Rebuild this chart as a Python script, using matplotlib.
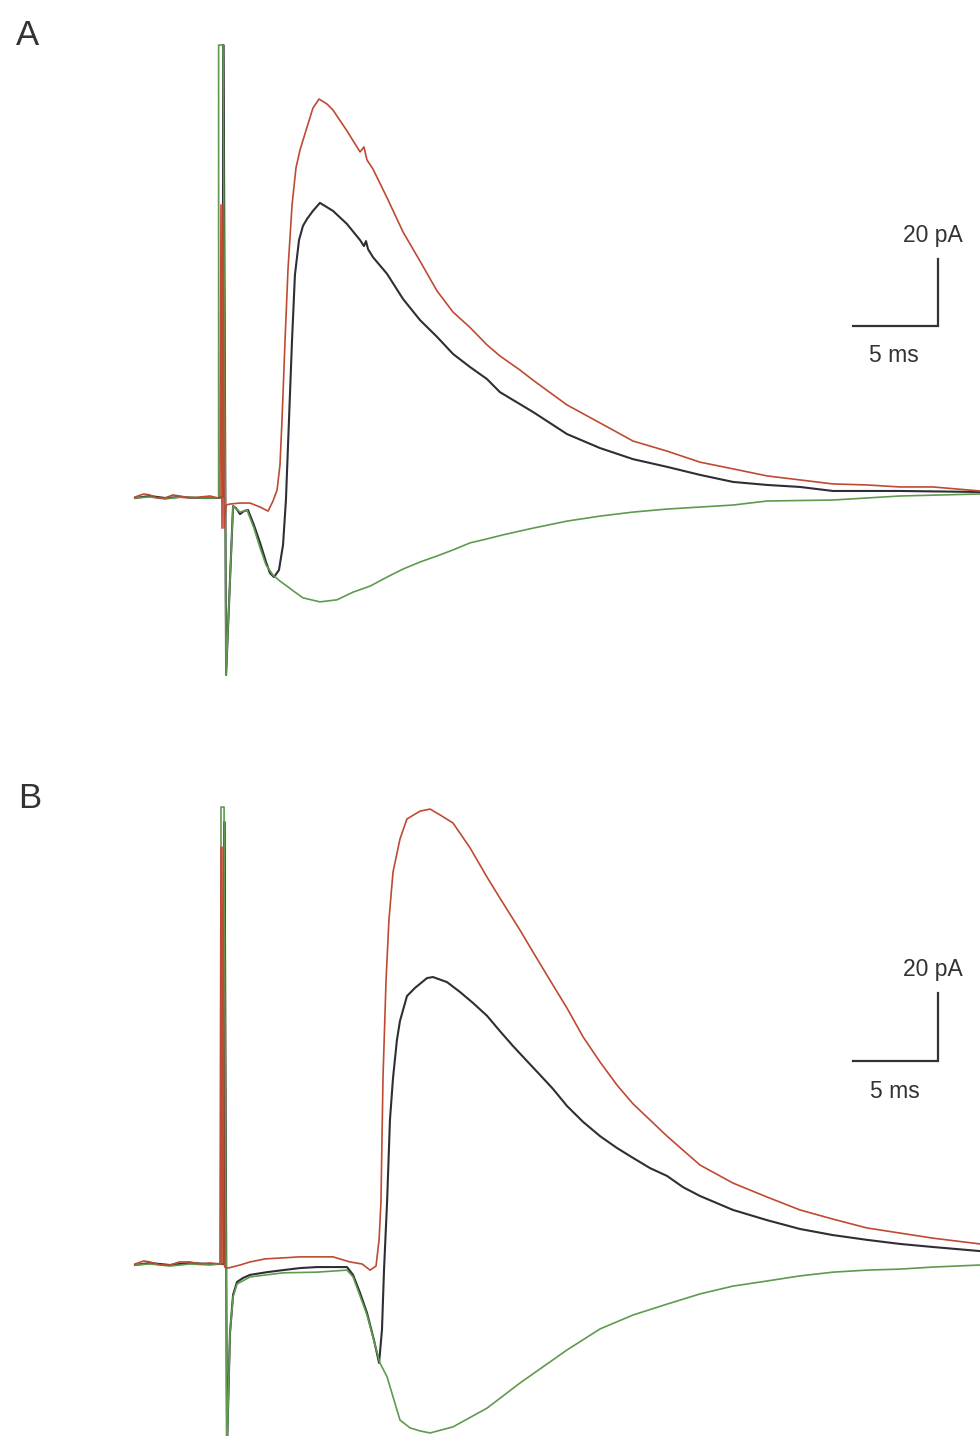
import matplotlib
matplotlib.use("Agg")
import matplotlib.pyplot as plt

# Panel A: time from stimulus (ms) and current (pA)
a_red_t = [-5.12, -4.6, -4.24, -3.8, -3.35, -2.9, -2.47, -1.9, -1.29, -0.7, -0.24, -0.12,
           -0.06, 0.0, 0.06, 0.12, 0.24, 0.47, 1.06, 1.65, 2.24, 2.71, 3.0, 3.24, 3.41,
           3.53, 3.71, 3.88, 4.12, 4.35, 4.59, 5.0, 5.35, 5.71, 6.18, 6.53, 7.35, 8.12,
           8.35, 8.53, 8.88, 9.71, 10.65, 11.65, 12.65, 13.59, 14.59, 15.59, 16.35, 17.53,
           18.29, 20.29, 22.24, 24.18, 26.18, 28.12, 30.06, 32.06, 34.0, 35.94, 37.94,
           39.88, 41.82, 44.59]
a_red_pa = [0.0, 0.9, 0.6, -0.3, -0.3, 0.6, 0.3, -0.3, 0.0, 0.3, -0.3, 0.0,
            87.2, -9.3, 87.2, -9.3, -2.4, -2.1, -1.8, -1.8, -3.0, -4.2, -1.2, 2.1, 9.6,
            23.0, 46.9, 67.8, 87.2, 98.2, 103.6, 110.4, 116.1, 118.8, 117.3, 115.5, 109.3,
            103.0, 104.5, 100.6, 97.9, 89.3, 79.1, 70.4, 61.5, 55.2, 50.6, 45.4, 42.1, 37.9,
            34.9, 27.5, 22.1, 16.7, 13.7, 10.4, 8.4, 6.3, 5.1, 3.9, 3.6,
            3.0, 3.0, 1.8]

a_black_t = [-5.12, -4.24, -3.35, -2.47, -1.29, -0.24, 0.06, 0.06, 0.09, 0.24, 0.65, 0.82,
             1.06, 1.29, 1.53, 1.88, 2.24, 2.59, 2.82, 3.06, 3.35, 3.59, 3.76, 3.94, 4.12,
             4.29, 4.53, 4.76, 5.0, 5.35, 5.76, 6.53, 7.35, 8.12, 8.35, 8.47, 8.59, 8.88,
             9.71, 10.65, 11.65, 12.65, 13.59, 14.59, 15.59, 16.35, 18.29, 20.29, 22.24,
             24.18, 26.18, 28.12, 30.06, 32.06, 34.0, 35.94, 39.88, 44.59]
a_black_pa = [-0.3, 0.3, -0.3, 0.0, -0.3, -0.3, 0.0, 134.9, 134.9, -53.1, -2.7, -3.3,
              -5.1, -4.2, -3.9, -8.4, -13.7, -19.4, -22.7, -23.9, -21.8, -14.3, -0.9, 23.0, 46.9,
              66.3, 76.7, 80.9, 83.0, 85.4, 87.8, 85.4, 81.5, 76.7, 74.9, 76.4, 74.0, 71.6,
              66.6, 59.1, 52.8, 47.8, 42.7, 38.8, 35.2, 31.3, 25.4, 18.8, 14.6,
              11.3, 9.0, 6.6, 4.5, 3.6, 3.0, 1.8, 1.8, 1.5]

a_green_t = [-5.12, -4.24, -3.35, -2.47, -1.29, -0.24, -0.2, -0.2, 0.06, 0.24, 0.65, 1.06,
             1.47, 1.88, 2.24, 2.59, 3.0, 3.41, 3.82, 4.29, 4.76, 5.76, 6.76, 7.71, 8.71,
             9.71, 10.65, 11.65, 12.65, 13.59, 14.59, 15.59, 16.53, 18.29, 20.29, 22.24,
             24.18, 26.18, 28.12, 30.06, 32.06, 35.94, 39.88, 44.59]
a_green_pa = [-0.3, 0.0, -0.6, 0.0, -0.3, -0.3, 0.0, 134.9, 134.9, -53.1, -2.7, -4.5,
              -3.9, -9.3, -15.2, -20.3, -23.3, -25.1, -26.6, -28.4, -30.1, -31.3, -30.7, -28.4, -26.6,
              -23.9, -21.5, -19.4, -17.6, -15.8, -13.7, -12.5, -11.3, -9.3, -7.2, -5.7,
              -4.5, -3.6, -3.0, -2.4, -1.2, -0.9, 0.3, 0.9]

# Panel B
b_red_t = [-5.12, -4.6, -4.24, -3.6, -3.06, -2.5, -1.88, -1.3, -0.71, -0.12, -0.06, 0.0,
           0.06, 0.12, 0.18, 0.35, 1.06, 1.65, 2.53, 3.59, 4.59, 5.59, 6.53, 7.53, 8.24,
           8.71, 9.06, 9.24, 9.35, 9.47, 9.65, 9.82, 10.06, 10.47, 10.88, 11.65, 12.24,
           12.82, 13.59, 14.59, 15.59, 16.35, 17.53, 18.29, 19.29, 20.29, 21.24, 22.24,
           23.24, 24.18, 26.18, 28.12, 30.06, 32.06, 34.0, 35.94, 37.94, 39.88, 41.82,
           44.59]
b_red_pa = [0.0, 0.9, 0.6, -0.3, -0.3, 0.6, 0.6, 0.0, 0.3, 0.0, 122.6, 0.0,
            122.6, 0.0, -1.0, -1.2, -0.3, 0.6, 1.5, 1.8, 2.1, 2.1, 2.1, 0.6, 0.0,
            -1.8, -0.6, 7.1, 18.2, 54.7, 83.5, 101.2, 115.3, 125.0, 130.9, 133.2, 133.8,
            132.1, 129.7, 122.4, 113.8, 107.6, 98.2, 91.8, 83.5, 75.3, 66.8, 59.4,
            52.6, 47.1, 37.6, 29.1, 23.8, 19.7, 15.9, 13.2, 10.6, 9.1, 7.6,
            5.9]

b_black_t = [-5.12, -4.24, -3.06, -1.88, -0.71, 0.12, 0.12, 0.15, 0.29, 0.47, 0.65, 0.88,
             1.24, 1.65, 2.65, 3.59, 4.59, 5.59, 6.53, 7.35, 7.71, 8.12, 8.53, 8.94, 9.24,
             9.41, 9.53, 9.71, 9.88, 10.06, 10.29, 10.47, 10.88, 11.35, 12.06, 12.41, 13.24,
             14.0, 14.76, 15.59, 16.35, 17.12, 17.94, 18.71, 19.47, 20.29, 21.24, 22.24,
             23.24, 24.18, 25.18, 26.18, 27.12, 28.12, 30.06, 32.06, 34.0, 35.94, 37.94,
             39.88, 41.82, 44.59]
b_black_pa = [-0.3, 0.3, -0.3, 0.3, 0.0, 0.0, 130.0, 130.0, -55.0, -20.3, -9.1, -5.3,
              -4.1, -3.2, -2.4, -1.8, -1.2, -0.9, -0.9, -0.9, -3.2, -8.5, -14.4, -22.4, -29.1,
              -19.4, -1.8, 18.2, 42.4, 54.7, 65.9, 71.5, 78.8, 81.2, 84.1, 84.4, 82.9,
              80.0, 76.8, 73.0, 68.5, 64.1, 59.7, 55.6, 51.5, 46.5, 41.8, 37.6,
              34.1, 31.2, 28.2, 25.9, 22.6, 20.0, 15.9, 12.9, 10.3, 8.5, 7.1,
              5.9, 5.0, 3.8]

b_green_t = [-5.12, -4.24, -3.06, -1.88, -0.71, -0.12, -0.06, -0.06, 0.12, 0.29, 0.47, 0.65,
             0.88, 1.65, 3.59, 5.59, 7.35, 7.71, 8.53, 9.29, 9.71, 10.47, 11.06, 11.65,
             12.24, 13.59, 15.59, 17.53, 20.29, 22.24, 24.18, 26.18, 28.12, 30.06, 32.06,
             34.0, 35.94, 37.94, 39.88, 41.82, 44.59]
b_green_pa = [-0.3, 0.0, -0.6, 0.0, -0.3, 0.0, 0.0, 134.4, 134.4, -55.0, -20.3, -9.7,
              -5.9, -3.8, -2.6, -2.4, -1.8, -3.8, -15.0, -29.1, -33.2, -45.9, -48.2, -49.1,
              -49.7, -47.9, -42.4, -35.0, -25.3, -19.1, -15.0, -11.8, -8.8, -6.5, -5.0,
              -3.5, -2.4, -1.8, -1.5, -0.9, -0.3]

bar_ms = 5
bar_pa = 20

RED = "#bf4a32"
BLACK = "#2e2e36"
GREEN = "#5f9a4e"
INK = "#333333"

plt.rcParams["font.family"] = ["Liberation Sans", "DejaVu Sans"]


def draw_panel(ax, traces, corner, pa_text, ms_text):
    for t, pa, color, lw in traces:
        ax.plot(t, pa, color=color, lw=lw, solid_joinstyle="round")
    x0, y0 = corner
    ax.plot([x0 - bar_ms, x0, x0], [y0, y0, y0 + bar_pa], color=INK, lw=1.6,
            solid_joinstyle="miter")
    ax.text(pa_text[0], pa_text[1], f"{bar_pa} pA", ha="center", va="center",
            fontsize=16.5, color=INK)
    ax.text(ms_text[0], ms_text[1], f"{bar_ms} ms", ha="center", va="center",
            fontsize=16.5, color=INK)
    ax.axis("off")


def main():
    fig = plt.figure(figsize=(9.8, 14.36), dpi=100)

    ax_a = fig.add_axes([0, 0.5, 1, 0.5])
    ax_a.set_xlim(-13.06, 44.59)
    ax_a.set_ylim(-65.97, 148.36)
    draw_panel(ax_a,
               [(a_black_t, a_black_pa, BLACK, 1.5),
                (a_green_t, a_green_pa, GREEN, 1.2),
                (a_red_t, a_red_pa, RED, 1.2)],
               (42.12, 51.04), (41.82, 78.2), (39.53, 42.1))

    ax_b = fig.add_axes([0, 0, 1, 0.5])
    ax_b.set_xlim(-13.06, 44.59)
    ax_b.set_ylim(-50.59, 160.59)
    draw_panel(ax_b,
               [(b_black_t, b_black_pa, BLACK, 1.5),
                (b_green_t, b_green_pa, GREEN, 1.2),
                (b_red_t, b_red_pa, RED, 1.2)],
               (42.12, 59.7), (41.82, 86.5), (39.59, 50.6))

    fig.text(27 / 980, 1 - 45 / 1436, "A", ha="center", va="baseline",
             fontsize=25, color=INK)
    fig.text(30 / 980, 1 - 808 / 1436, "B", ha="center", va="baseline",
             fontsize=25, color=INK)

    fig.savefig("out.png", dpi=100, facecolor="white")


if __name__ == "__main__":
    main()
